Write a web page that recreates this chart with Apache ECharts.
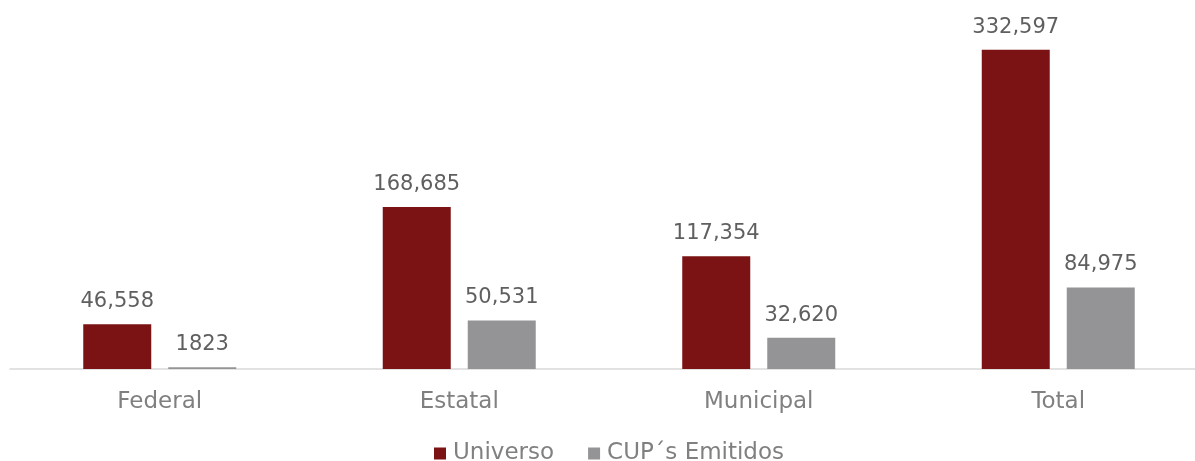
<!DOCTYPE html>
<html>
<head>
<meta charset="utf-8">
<script src="https://cdn.jsdelivr.net/npm/echarts@6/dist/echarts.min.js"></script>
<style>html,body{margin:0;padding:0;background:#fff;overflow:hidden}#c{width:1208px;height:461px}</style>
</head>
<body>
<div id="c"></div>
<script>
const categories = ['Federal', 'Estatal', 'Municipal', 'Total'];
const universo = [46558, 168685, 117354, 332597];
const cups = [1823, 50531, 32620, 84975];
const seriesNames = ['Universo', 'CUP´s Emitidos'];

const fmt = v => v < 10000 ? String(v) : v.toLocaleString('en-US');
const FONT = '"DejaVu Sans", sans-serif';
const chart = echarts.init(document.getElementById('c'));
const label = {
  show: true, position: 'top', distance: 12,
  color: '#5f5f5f', fontSize: 21, fontFamily: FONT,
  formatter: p => fmt(p.value)
};
chart.setOption({
  animation: false,
  textStyle: { fontFamily: FONT },
  grid: { left: 10, right: 0, top: 33, height: 336 },
  legend: {
    top: 437, left: 429, itemWidth: 12, itemHeight: 12, itemGap: 34,
    icon: 'rect',
    textStyle: { color: '#808080', fontSize: 23, fontFamily: FONT, padding: [0, 0, 0, 2] },
    data: seriesNames
  },
  xAxis: {
    type: 'category', data: categories,
    axisLine: { lineStyle: { color: '#d9d9d9', width: 1.5 } },
    axisTick: { show: false },
    axisLabel: { color: '#808080', fontSize: 23, margin: 22, fontFamily: FONT }
  },
  yAxis: { type: 'value', min: 0, max: 350000, show: false, splitLine: { show: false } },
  series: [
    { name: seriesNames[0], type: 'bar', data: universo, barWidth: 68, barGap: '25%',
      itemStyle: { color: '#7B1315' }, label },
    { name: seriesNames[1], type: 'bar', data: cups, barWidth: 68,
      itemStyle: { color: '#949497' }, label }
  ]
});
</script>
</body>
</html>
